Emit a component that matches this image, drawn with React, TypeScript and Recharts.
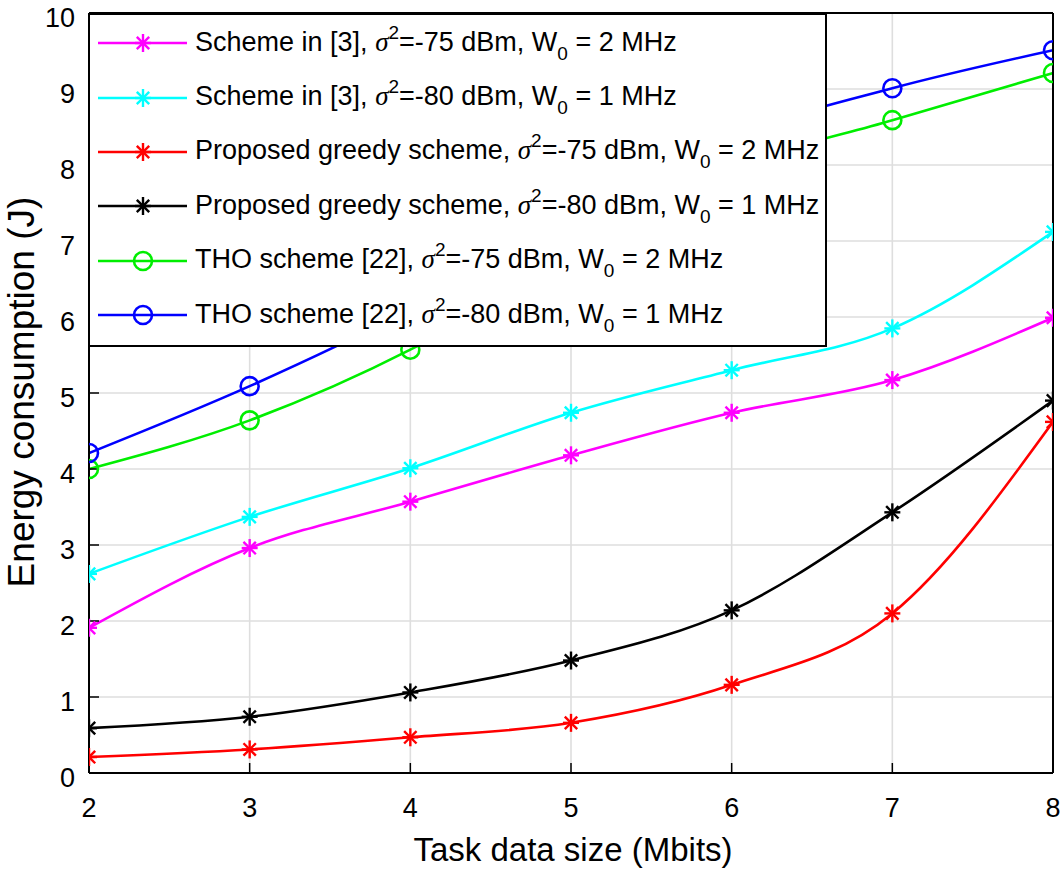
import React from 'react';
import { LineChart, Line, XAxis, YAxis, CartesianGrid, Legend } from 'recharts';

const dataSizes = [2, 3, 4, 5, 6, 7, 8];
const schemeRef75 = [1.91, 2.96, 3.57, 4.18, 4.74, 5.17, 5.99];
const schemeRef80 = [2.62, 3.37, 4.01, 4.74, 5.3, 5.85, 7.12];
const greedy75 = [0.21, 0.31, 0.47, 0.66, 1.16, 2.1, 4.62];
const greedy80 = [0.59, 0.74, 1.06, 1.48, 2.14, 3.43, 4.9];
const tho75 = [4.0, 4.64, 5.57, 6.8, 7.95, 8.59, 9.21];
const tho80 = [4.21, 5.09, 6.1, 7.28, 8.37, 9.01, 9.51];

const xTicks = [2, 3, 4, 5, 6, 7, 8];
const yTicks = [0, 1, 2, 3, 4, 5, 6, 7, 8, 9, 10];

const seriesNames = [
  'Scheme in [3]',
  'Scheme in [3]',
  'Proposed greedy scheme',
  'Proposed greedy scheme',
  'THO scheme [22]',
  'THO scheme [22]',
];
const noiseLevels = ['-75', '-80', '-75', '-80', '-75', '-80'];
const bandwidths = ['2', '1', '2', '1', '2', '1'];
const seriesKeys = ['schemeRef75', 'schemeRef80', 'greedy75', 'greedy80', 'tho75', 'tho80'];
const seriesColors = ['#ff00ff', '#00ffff', '#ff0000', '#000000', '#00ee00', '#0000ff'];
const seriesMarkers = ['star', 'star', 'star', 'star', 'circle', 'circle'];
const seriesValues = [schemeRef75, schemeRef80, greedy75, greedy80, tho75, tho80];

const data = dataSizes.map((x, i) => {
  const row: Record<string, number> = { x };
  seriesKeys.forEach((k, j) => {
    row[k] = seriesValues[j][i];
  });
  return row;
});

const FONT = '"Liberation Sans", Arial, Helvetica, sans-serif';
const tickStyle = { fontSize: 27, fill: '#000', fontFamily: FONT };

function Marker({ cx, cy, color, kind }: { cx: number; cy: number; color: string; kind: string }) {
  if (kind === 'circle') {
    return <circle cx={cx} cy={cy} r={9} fill="none" stroke={color} strokeWidth={2.6} />;
  }
  const d = 6.2;
  return (
    <g stroke={color} strokeWidth={2.4} strokeLinecap="butt">
      <line x1={cx} y1={cy - 9} x2={cx} y2={cy + 9} />
      <line x1={cx - 8} y1={cy} x2={cx + 8} y2={cy} />
      <line x1={cx - d} y1={cy - d} x2={cx + d} y2={cy + d} />
      <line x1={cx - d} y1={cy + d} x2={cx + d} y2={cy - d} />
    </g>
  );
}

const renderLegend = () => (
  <div
    style={{
      boxSizing: 'border-box',
      width: 739,
      height: 334,
      border: '2px solid #000',
      background: '#fff',
      paddingTop: 1,
      fontFamily: FONT,
      fontSize: 27,
      color: '#000',
    }}
  >
    {seriesKeys.map((k, j) => (
      <div key={k} style={{ display: 'flex', alignItems: 'center', height: 54.4 }}>
        <svg width={105} height={30} style={{ flex: 'none' }}>
          <line x1={8} x2={97} y1={15} y2={15} stroke={seriesColors[j]} strokeWidth={2.6} />
          <Marker cx={53} cy={15} color={seriesColors[j]} kind={seriesMarkers[j]} />
        </svg>
        <span style={{ whiteSpace: 'nowrap', lineHeight: '30px' }}>
          {seriesNames[j]},{' '}
          <span style={{ fontFamily: '"Liberation Serif", "Times New Roman", serif', fontStyle: 'italic' }}>σ</span>
          <span style={{ fontSize: 19, position: 'relative', top: -12 }}>2</span>={noiseLevels[j]} dBm, W
          <span style={{ fontSize: 19, position: 'relative', top: 9 }}>0</span> = {bandwidths[j]} MHz
        </span>
      </div>
    ))}
  </div>
);

export default function App() {
  return (
    <div style={{ position: 'absolute', left: 0, top: 0, width: 1064, height: 877, background: '#fff' }}>
      <LineChart width={1064} height={877} data={data} margin={{ top: 12, right: 10, bottom: 103, left: 88 }}>
        <CartesianGrid stroke="#dedede" strokeWidth={1.6} />
        <XAxis
          dataKey="x"
          type="number"
          domain={[2, 8]}
          ticks={xTicks}
          interval={0}
          height={1}
          tickSize={-10}
          tickMargin={35}
          tickLine={{ stroke: '#000', strokeWidth: 1.5 }}
          axisLine={{ stroke: '#000', strokeWidth: 2 }}
          tick={tickStyle}
          allowDataOverflow
        />
        <YAxis
          type="number"
          domain={[0, 10]}
          ticks={yTicks}
          interval={0}
          width={1}
          tickSize={-10}
          tickMargin={24}
          tickLine={{ stroke: '#000', strokeWidth: 1.5 }}
          axisLine={{ stroke: '#000', strokeWidth: 2 }}
          tick={{ ...tickStyle, dy: 4 }}
          allowDataOverflow
        />
        <XAxis
          xAxisId="top"
          orientation="top"
          type="number"
          domain={[2, 8]}
          ticks={xTicks}
          interval={0}
          height={1}
          tick={false}
          tickSize={-10}
          tickLine={{ stroke: '#000', strokeWidth: 1.5 }}
          axisLine={{ stroke: '#000', strokeWidth: 2 }}
          allowDataOverflow
        />
        <YAxis
          yAxisId="right"
          orientation="right"
          type="number"
          domain={[0, 10]}
          ticks={yTicks}
          interval={0}
          width={1}
          tick={false}
          tickSize={-10}
          tickLine={{ stroke: '#000', strokeWidth: 1.5 }}
          axisLine={{ stroke: '#000', strokeWidth: 2 }}
          allowDataOverflow
        />
        {seriesKeys.map((k, j) => (
          <Line
            key={k}
            dataKey={k}
            type="monotone"
            stroke={seriesColors[j]}
            strokeWidth={2.6}
            isAnimationActive={false}
            dot={(p: any) => (
              <Marker key={`${k}-${p.index}`} cx={p.cx} cy={p.cy} color={seriesColors[j]} kind={seriesMarkers[j]} />
            )}
            activeDot={false}
          />
        ))}
        <Legend
          layout="horizontal"
          verticalAlign="middle"
          align="center"
          content={renderLegend}
          wrapperStyle={{ left: 88, top: 13, width: 739, height: 334 }}
        />
      </LineChart>
      <div
        style={{
          position: 'absolute',
          left: 373,
          top: 834,
          width: 400,
          textAlign: 'center',
          fontFamily: FONT,
          fontSize: 33,
          lineHeight: '32px',
          color: '#000',
        }}
      >
        Task data size (Mbits)
      </div>
      <div
        style={{
          position: 'absolute',
          left: -218.5,
          top: 374,
          width: 480,
          height: 36,
          textAlign: 'center',
          fontFamily: FONT,
          fontSize: 37,
          lineHeight: '36px',
          color: '#000',
          transform: 'rotate(-90deg)',
          whiteSpace: 'nowrap',
        }}
      >
        Energy consumption (J)
      </div>
    </div>
  );
}
